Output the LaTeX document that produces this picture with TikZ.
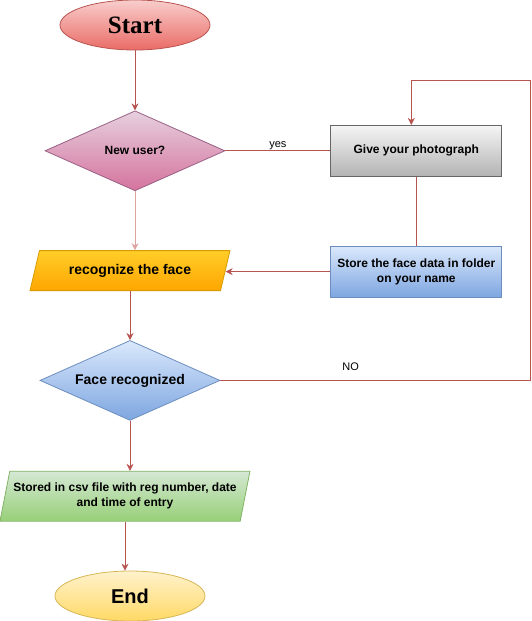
\documentclass[tikz,border=0pt]{standalone}
\usepackage{fontspec}
\setmainfont{Liberation Sans}
\newfontfamily\titlefont{Liberation Serif}
\usetikzlibrary{arrows.meta,positioning,shapes.geometric}
\definecolor{wire}{HTML}{B85450}
\definecolor{softwire}{HTML}{DDA3A1}
\definecolor{redtop}{HTML}{F8CECC}
\definecolor{redbot}{HTML}{EA6B66}
\definecolor{redline}{HTML}{B85450}
\definecolor{pinktop}{HTML}{E6D0DE}
\definecolor{pinkbot}{HTML}{D5739D}
\definecolor{pinkline}{HTML}{996185}
\definecolor{graytop}{HTML}{F5F5F5}
\definecolor{graybot}{HTML}{B3B3B3}
\definecolor{grayline}{HTML}{666666}
\definecolor{bluetop}{HTML}{DAE8FC}
\definecolor{bluebot}{HTML}{7EA6E0}
\definecolor{blueline}{HTML}{6C8EBF}
\definecolor{orangetop}{HTML}{FFCD28}
\definecolor{orangebot}{HTML}{FFA500}
\definecolor{orangeline}{HTML}{D79B00}
\definecolor{greentop}{HTML}{D5E8D4}
\definecolor{greenbot}{HTML}{97D077}
\definecolor{greenline}{HTML}{82B366}
\definecolor{yellowtop}{HTML}{FFF2CC}
\definecolor{yellowbot}{HTML}{FFD966}
\definecolor{yellowline}{HTML}{D6B656}
\tikzset{
  paint/.style={draw=#1line,top color=#1top,bottom color=#1bot,line width=0.8pt},
  terminal/.style={ellipse,paint=#1,minimum width=150pt,minimum height=50pt,inner sep=0pt},
  decision/.style={diamond,paint=#1,aspect=2,minimum width=180pt,minimum height=80pt,inner sep=0pt,font=\fontsize{12}{14}\selectfont\bfseries},
  process/.style={rectangle,paint=#1,minimum width=171pt,minimum height=51pt,inner sep=2pt,align=center,font=\fontsize{12}{15}\selectfont\bfseries},
  io/.style={trapezium,paint=#1,trapezium stretches body,inner sep=2pt,align=center},
  flow/.style={-{Stealth[length=7pt,width=7pt]},line width=0.8pt,draw=wire},
  link/.style={line width=0.8pt,draw=wire},
  lbl/.style={font=\fontsize{11}{13}\selectfont,inner sep=1pt}
}
\begin{document}
\begin{tikzpicture}
    \useasboundingbox (0,0) rectangle (532pt,-621pt);
    \node[terminal=red,font=\titlefont\fontsize{25}{29}\selectfont\bfseries] (start) at (135pt,-25pt) {Start};
    \node[decision=pink,below=60pt of start] (newuser) {New user?};
    \node[io=orange,below=59pt of newuser,xshift=-5pt,trapezium left angle=61,trapezium right angle=119,minimum width=200pt,minimum height=40pt,font=\fontsize{14}{16}\selectfont\bfseries] (recog) {recognize the face};
    \node[process=gray,right=105pt of newuser] (photo) {Give your photograph};
    \node[process=blue,below=69pt of photo] (store) {Store the face data in folder\\on your name};
    \node[decision=blue,below=49pt of recog,font=\fontsize{14}{16}\selectfont\bfseries] (facerec) {Face recognized};
    \node[io=green,below=50pt of facerec,xshift=-5pt,trapezium left angle=72,trapezium right angle=108,minimum width=250pt,minimum height=50pt,font=\fontsize{12}{15}\selectfont\bfseries] (csv) {Stored in csv file with reg number, date\\and time of entry};
    \node[terminal=yellow,below=49pt of csv,xshift=5pt,font=\fontsize{20}{24}\selectfont\bfseries] (finish) {End};
    \coordinate (back) at ([xshift=-5pt,yshift=45pt]photo.north);
    \draw[flow] (start) -- (newuser);
    \draw[link] (newuser) -- node[lbl,above]{yes} (photo);
    \draw[link] (photo) -- (store);
    \draw[flow,draw=softwire] (newuser.south) -- (newuser.south |- recog.north);
    \draw[flow] (store.west) -- (store.west -| recog.east);
    \draw[flow] (recog.south) -- (recog.south |- facerec.north);
    \draw[flow] (facerec.east) -- node[lbl,above=8pt,pos=0.42]{NO} ++(310pt,0) |- (back) -- (back |- photo.north);
    \draw[flow] (facerec.south) -- (facerec.south |- csv.north);
    \draw[flow] (csv.south) -- (csv.south |- finish.north);
  \end{tikzpicture}
\end{document}
